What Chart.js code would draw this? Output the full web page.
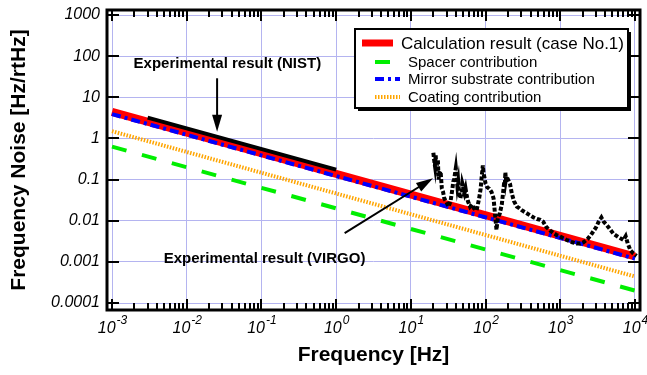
<!DOCTYPE html>
<html>
<head>
<meta charset="utf-8">
<script src="https://cdn.jsdelivr.net/npm/chart.js@4"></script>
<style>
  html, body { margin: 0; padding: 0; background: #fff; }
</style>
</head>
<body>
<canvas id="myChart" width="647" height="375"></canvas>
<script>
// frequency axis decades and labels (10 with a raised exponent)
const xTickValues = [1e-3, 1e-2, 1e-1, 1, 10, 100, 1e3, 1e4];
const xTickExps = ['-3', '-2', '-1', '0', '1', '2', '3', '4'];
const yTickValues = [1e-4, 1e-3, 1e-2, 1e-1, 1, 10, 100, 1000];
const yTickLabels = ['0.0001', '0.001', '0.01', '0.1', '1', '10', '100', '1000'];

// model curves (end points)
const calcFreq = [1e-3, 1e4];
const calcNoise = [4.4, 0.00135];
const spacerFreq = [1e-3, 1e4];
const spacerNoise = [0.63, 0.0002];
const mirrorFreq = [1e-3, 1e4];
const mirrorNoise = [3.9, 0.0012];
const coatingFreq = [1e-3, 1e4];
const coatingNoise = [1.5, 0.00044];

// measurements
const nistFreq = [0.003, 1];
const nistNoise = [3.2, 0.175];
const virgoFreq = [20, 20.5, 21, 21.5, 22, 22.5, 23, 23.5, 24, 25, 26, 27, 28, 30, 32, 34, 36, 37, 38, 39, 40, 41, 42,
  43, 44, 46, 48, 49, 50, 51, 52, 54, 56, 58, 62, 66, 70, 76, 82, 86, 88, 90, 92, 94, 96, 100, 105, 112, 120, 128, 135,
  140, 146, 155, 165, 172, 178, 181, 184, 187, 190, 200, 212, 225, 240, 262, 285, 305, 340, 395, 440, 490, 540, 590,
  650, 730, 810, 890, 1000, 1220, 1450, 1650, 1850, 2050, 2350, 2650, 3000, 3250, 3550, 3800, 4200, 4700, 5100, 6000,
  7000, 7500, 8000, 8700, 9500, 10500];
const virgoNoise = [0.45, 0.3, 0.22, 0.4, 0.15, 0.25, 0.3, 0.1, 0.14, 0.16, 0.06, 0.05, 0.035, 0.028, 0.022, 0.03, 0.06,
  0.09, 0.1, 0.14, 0.19, 0.12, 0.07, 0.09, 0.05, 0.035, 0.05, 0.08, 0.07, 0.05, 0.045, 0.06, 0.04, 0.03, 0.022, 0.025,
  0.02, 0.018, 0.035, 0.06, 0.1, 0.15, 0.22, 0.14, 0.12, 0.08, 0.065, 0.06, 0.05, 0.035, 0.012, 0.006, 0.012, 0.015,
  0.025, 0.05, 0.09, 0.07, 0.15, 0.1, 0.12, 0.1, 0.08, 0.045, 0.03, 0.022, 0.02, 0.018, 0.016, 0.0135, 0.012, 0.011,
  0.0105, 0.0095, 0.007, 0.0058, 0.005, 0.0045, 0.0041, 0.0034, 0.003, 0.0028, 0.0028, 0.003, 0.0037, 0.0049, 0.0068,
  0.0093, 0.012, 0.0095, 0.0078, 0.006, 0.0049, 0.004, 0.0034, 0.0042, 0.0028, 0.0019, 0.0016, 0.0014];

const FONT = "'Liberation Sans', Arial, Helvetica, sans-serif";

function pts(xs, ys) {
  return xs.map((v, i) => ({ x: v, y: ys[i] }));
}

// annotation text and arrows, in data coordinates
const notes = [
  { text: 'Experimental result (NIST)', at: [0.035, 65], arrow: [[0.0255, 29], [0.0255, 1.45]] },
  { text: 'Experimental result (VIRGO)', at: [0.11, 0.0012], arrow: [[1.3, 0.005], [19.8, 0.108]] },
];

function drawArrow(ctx, x1, y1, x2, y2) {
  const ang = Math.atan2(y2 - y1, x2 - x1);
  const hl = 17, hw = 5;
  const c = Math.cos(ang), s = Math.sin(ang);
  ctx.beginPath();
  ctx.moveTo(x1, y1);
  ctx.lineTo(x2 - hl * 0.7 * c, y2 - hl * 0.7 * s);
  ctx.stroke();
  ctx.beginPath();
  ctx.moveTo(x2, y2);
  ctx.lineTo(x2 - hl * c + hw * s, y2 - hl * s - hw * c);
  ctx.lineTo(x2 - hl * c - hw * s, y2 - hl * s + hw * c);
  ctx.closePath();
  ctx.fill();
}

const frameTicks = {
  id: 'frameTicks',
  afterDatasetsDraw(chart) {
    const { ctx, chartArea: a, scales: { x, y } } = chart;
    ctx.save();
    ctx.strokeStyle = '#000';
    ctx.lineWidth = 2;
    ctx.beginPath();
    xTickValues.forEach(dec => {
      for (let m = 1; m <= 9; m++) {
        const v = m * dec;
        if (v > x.max) continue;
        const px = Math.round(x.getPixelForValue(v));
        const len = m === 1 ? 11 : 7;
        ctx.moveTo(px, a.bottom); ctx.lineTo(px, a.bottom - len);
        ctx.moveTo(px, a.top); ctx.lineTo(px, a.top + len);
      }
    });
    yTickValues.forEach(v => {
      const py = Math.round(y.getPixelForValue(v));
      ctx.moveTo(a.left, py); ctx.lineTo(a.left + 12, py);
      ctx.moveTo(a.right, py); ctx.lineTo(a.right - 12, py);
    });
    ctx.stroke();
    ctx.lineWidth = 3;
    ctx.strokeRect(a.left, a.top, a.right - a.left, a.bottom - a.top);
    ctx.restore();
  },
  afterDraw(chart) {
    const { ctx, chartArea: a, scales: { x, y } } = chart;
    ctx.save();
    ctx.fillStyle = '#000';
    ctx.strokeStyle = '#000';

    // x tick labels: "10" with superscript exponent
    ctx.textBaseline = 'alphabetic';
    xTickValues.forEach((v, i) => {
      const px = x.getPixelForValue(v);
      ctx.font = 'italic 16px ' + FONT;
      const wb = ctx.measureText('10').width;
      ctx.font = 'italic 12px ' + FONT;
      const we = ctx.measureText(xTickExps[i]).width;
      const x0 = px - (wb + we) / 2;
      ctx.textAlign = 'left';
      ctx.font = 'italic 16px ' + FONT;
      ctx.fillText('10', x0, a.bottom + 23);
      ctx.font = 'italic 12px ' + FONT;
      ctx.fillText(xTickExps[i], x0 + wb + 1, a.bottom + 14);
    });

    // annotations
    ctx.lineWidth = 2;
    ctx.font = 'bold 15px ' + FONT;
    ctx.textAlign = 'center';
    ctx.textBaseline = 'middle';
    notes.forEach(n => {
      ctx.fillText(n.text, x.getPixelForValue(n.at[0]), y.getPixelForValue(n.at[1]));
      const p = n.arrow.map(q => [x.getPixelForValue(q[0]), y.getPixelForValue(q[1])]);
      drawArrow(ctx, p[0][0], p[0][1], p[1][0], p[1][1]);
    });

    // legend box
    const bx = a.left + 248, by = a.top + 19, bw = 273, bh = 79;
    ctx.fillStyle = '#000';
    ctx.fillRect(bx + 3, by + 3, bw, bh);
    ctx.fillStyle = '#fff';
    ctx.fillRect(bx, by, bw, bh);
    ctx.lineWidth = 2;
    ctx.strokeRect(bx, by, bw, bh);
    const rows = [14, 33, 50, 68];
    ctx.textAlign = 'left';
    chart.data.datasets.slice(0, 4).forEach((ds, i) => {
      const ry = by + rows[i];
      ctx.save();
      ctx.strokeStyle = ds.borderColor;
      ctx.lineWidth = i === 0 ? 7 : 4;
      ctx.setLineDash(ds.borderDash || []);
      ctx.beginPath();
      if (i === 0) { ctx.moveTo(bx + 7, ry); ctx.lineTo(bx + 38, ry); }
      else { ctx.moveTo(bx + 20, ry); ctx.lineTo(bx + 45, ry); }
      ctx.stroke();
      ctx.restore();
      ctx.fillStyle = '#000';
      ctx.font = (i === 0 ? '17px ' : '15px ') + FONT;
      ctx.fillText(ds.label, i === 0 ? bx + 46 : bx + 53, ry + 1);
    });
    ctx.restore();
  }
};

function noEdgePadding(s) {
  s.paddingTop = 0; s.paddingBottom = 0; s.paddingLeft = 0; s.paddingRight = 0;
}

const config = {
  type: 'line',
  data: {
    datasets: [
      { label: 'Calculation result (case No.1)', data: pts(calcFreq, calcNoise),
        borderColor: '#ff0000', borderWidth: 8, order: 6 },
      { label: 'Spacer contribution', data: pts(spacerFreq, spacerNoise),
        borderColor: '#00ee00', borderWidth: 4, borderDash: [15, 16], order: 8 },
      { label: 'Mirror substrate contribution', data: pts(mirrorFreq, mirrorNoise),
        borderColor: '#0000ff', borderWidth: 4, borderDash: [9, 4, 3, 4], order: 4 },
      { label: 'Coating contribution', data: pts(coatingFreq, coatingNoise),
        borderColor: '#ffa500', borderWidth: 4, borderDash: [1.5, 1.5], order: 7 },
      { label: 'NIST', data: pts(nistFreq, nistNoise),
        borderColor: '#000', borderWidth: 4, order: 2 },
      { label: 'VIRGO', data: pts(virgoFreq, virgoNoise),
        borderColor: '#000', borderWidth: 4, borderDash: [4, 2], order: 1 },
    ]
  },
  options: {
    responsive: false,
    animation: false,
    layout: { padding: { top: 10, right: 7, left: 0, bottom: 0 } },
    elements: { point: { radius: 0 }, line: { tension: 0, fill: false } },
    scales: {
      x: {
        type: 'logarithmic',
        min: 0.000857, max: 11670,
        afterBuildTicks: s => { s.ticks = xTickValues.map(v => ({ value: v })); },
        afterFit: s => { s.height = 65; noEdgePadding(s); },
        grid: { color: '#b4b4f0', lineWidth: 1, borderDash: [2, 2], drawTicks: false },
        border: { display: false },
        ticks: { display: false },
        title: { display: true, text: 'Frequency [Hz]', color: '#000',
          font: { family: FONT, size: 21, weight: 'bold' }, padding: { top: 0, bottom: 7 } }
      },
      y: {
        type: 'logarithmic',
        min: 6.76e-5, max: 1324,
        afterBuildTicks: s => { s.ticks = yTickValues.map(v => ({ value: v })); },
        afterFit: s => { s.width = 107; noEdgePadding(s); },
        grid: { color: '#b4b4f0', lineWidth: 1, borderDash: [2, 2], drawTicks: false },
        border: { display: false },
        ticks: {
          padding: 7, color: '#000', autoSkip: false,
          font: { family: FONT, size: 16, style: 'italic' },
          callback: v => yTickLabels[yTickValues.indexOf(v)]
        },
        title: { display: true, text: 'Frequency Noise [Hz/rtHz]', color: '#000',
          font: { family: FONT, size: 21, weight: 'bold' }, padding: { top: 7, bottom: 0 } }
      }
    },
    plugins: {
      legend: { display: false },
      tooltip: { enabled: false }
    }
  },
  plugins: [frameTicks]
};

const chart = new Chart(document.getElementById('myChart').getContext('2d'), config);
</script>
</body>
</html>
